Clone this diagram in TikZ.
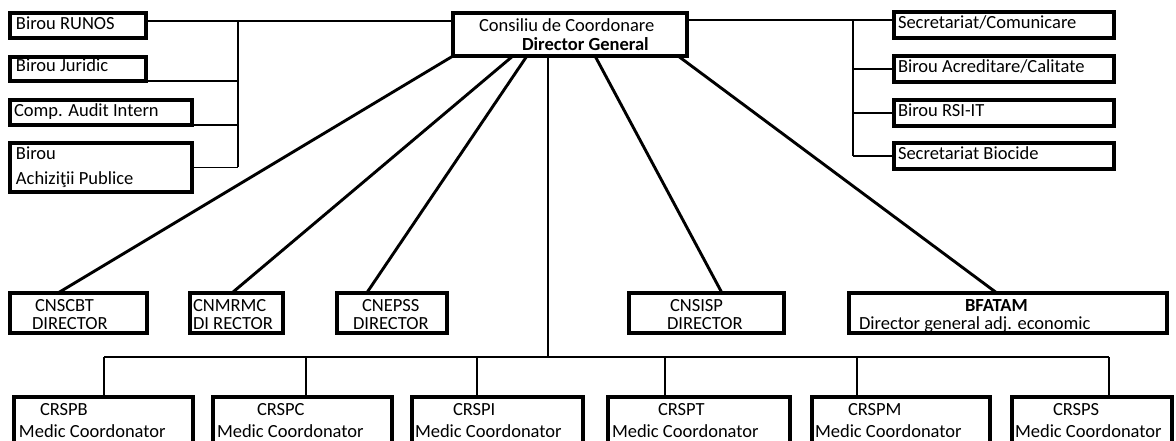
\documentclass[tikz,border=0pt]{standalone}
\usepackage{fontspec}
\setmainfont{Carlito}
\usetikzlibrary{calc}
\tikzset{
  box/.style={draw, line width=3.2pt, inner sep=0pt, outer sep=0pt, anchor=north west},
  txt/.style={inner sep=0pt, outer sep=0pt, anchor=base west, font=\fontsize{18.5}{18}\selectfont},
  boldtxt/.style={txt, font=\fontsize{18.5}{18}\selectfont\bfseries},
  thinline/.style={line width=1.5pt},
  busline/.style={line width=2.2pt},
  diag/.style={line width=2.9pt},
}
\begin{document}
\begin{tikzpicture}[x=1pt,y=-1pt]
\useasboundingbox (0,0) rectangle (1176,441);
% top box
\node[box, minimum width=234pt, minimum height=43pt] (dg) at (453,13) {};
\node[txt] (dgt1) at (479,32) {Consiliu de Coordonare};
\node[boldtxt] (dgt2) at (522,51) {Director General};
% left column
\node[box, minimum width=136pt, minimum height=25pt] (runos) at (10,13) {};
\node[txt] (runost) at (16,30) {Birou RUNOS};
\node[box, minimum width=136pt, minimum height=24pt] (juridic) at (10,57) {};
\node[txt] (juridict) at (16,72) {Birou Juridic};
\node[box, minimum width=182pt, minimum height=25pt] (audit) at (10,100) {};
\node[txt] (auditt) at (14,117) {Comp. Audit Intern};
\node[box, minimum width=182pt, minimum height=49pt] (achiz) at (10,143) {};
\node[txt] (achizt1) at (16,160) {Birou};
\node[txt] (achizt2) at (16,185) {Achiziţii Publice};
% right column
\node[box, minimum width=220pt, minimum height=26pt] (secom) at (894,12) {};
\node[txt] (secomt) at (898,29) {Secretariat/Comunicare};
\node[box, minimum width=220pt, minimum height=26pt] (acred) at (894,56) {};
\node[txt] (acredt) at (898,73) {Birou Acreditare/Calitate};
\node[box, minimum width=220pt, minimum height=26pt] (rsi) at (894,100) {};
\node[txt] (rsit) at (898,117) {Birou RSI-IT};
\node[box, minimum width=220pt, minimum height=26pt] (biocide) at (894,143) {};
\node[txt] (biocidet) at (898,160) {Secretariat Biocide};
% middle row
\node[box, minimum width=137pt, minimum height=40pt] (cnscbt) at (10,293) {};
\node[txt] (cnscbtt1) at (35,311) {CNSCBT};
\node[txt] (cnscbtt2) at (32,329) {DIRECTOR};
\node[box, minimum width=93pt, minimum height=40pt] (cnmrmc) at (190,293) {};
\node[txt] (cnmrmct1) at (193,311) {CNMRMC};
\node[txt] (cnmrmct2) at (193,329) {DI RECTOR};
\node[box, minimum width=110pt, minimum height=40pt] (cnepss) at (337,293) {};
\node[txt] (cnepsst1) at (362,311) {CNEPSS};
\node[txt] (cnepsst2) at (353,329) {DIRECTOR};
\node[box, minimum width=155pt, minimum height=40pt] (cnsisp) at (629,293) {};
\node[txt] (cnsispt1) at (670,311) {CNSISP};
\node[txt] (cnsispt2) at (667,329) {DIRECTOR};
\node[box, minimum width=318pt, minimum height=40pt] (bfatam) at (849,293) {};
\node[boldtxt] (bfatamt1) at (965,311) {BFATAM};
\node[txt] (bfatamt2) at (859,329) {Director general adj. economic};
% bottom row
\node[box, minimum width=179pt, minimum height=46pt] (crspb) at (14,397) {};
\node[txt] (crspbt1) at (40,415) {CRSPB};
\node[txt] (crspbt2) at (19,437) {Medic Coordonator};
\node[box, minimum width=179pt, minimum height=46pt] (crspc) at (213,397) {};
\node[txt] (crspct1) at (257,415) {CRSPC};
\node[txt] (crspct2) at (217,437) {Medic Coordonator};
\node[box, minimum width=171pt, minimum height=46pt] (crspi) at (412,397) {};
\node[txt] (crspit1) at (453,415) {CRSPI};
\node[txt] (crspit2) at (415,437) {Medic Coordonator};
\node[box, minimum width=182pt, minimum height=46pt] (crspt) at (608,397) {};
\node[txt] (crsptt1) at (658,415) {CRSPT};
\node[txt] (crsptt2) at (612,437) {Medic Coordonator};
\node[box, minimum width=178pt, minimum height=46pt] (crspm) at (812,397) {};
\node[txt] (crspmt1) at (848,415) {CRSPM};
\node[txt] (crspmt2) at (815,437) {Medic Coordonator};
\node[box, minimum width=160pt, minimum height=46pt] (crsps) at (1012,397) {};
\node[txt] (crspst1) at (1053,415) {CRSPS};
\node[txt] (crspst2) at (1015,437) {Medic Coordonator};
% left bus
\coordinate (lbx) at (238,0);
\coordinate (lbA) at ($(runos.north east)!0.32!(runos.south east)$);
\draw[thinline] (lbA) -- (lbA -| dg.west);
\draw[thinline] (lbA -| lbx) -- (achiz.east -| lbx);
\draw[thinline] (juridic.south east) -- (juridic.south east -| lbx);
\draw[thinline] (audit.south east) -- (audit.south east -| lbx);
\draw[thinline] (achiz.east) -- (achiz.east -| lbx);
% right bus
\coordinate (rbx) at (853,0);
\coordinate (rbA) at ($(secom.north west)!0.3!(secom.south west)$);
\draw[thinline] (dg.east |- rbA) -- (rbA);
\draw[thinline] (rbA -| rbx) -- (biocide.west -| rbx);
\draw[thinline] (acred.west) -- (acred.west -| rbx);
\draw[thinline] (rsi.west) -- (rsi.west -| rbx);
\draw[thinline] (biocide.west) -- (biocide.west -| rbx);
% diagonals
\draw[diag] (dg.south west) -- ($(cnscbt.north west)!0.35!(cnscbt.north east)$);
\draw[diag] ($(dg.south west)!0.256!(dg.south east)$) -- ($(cnmrmc.north west)!0.45!(cnmrmc.north east)$);
\draw[diag] ($(dg.south west)!0.316!(dg.south east)$) -- ($(cnepss.north west)!0.27!(cnepss.north east)$);
\draw[diag] ($(dg.south west)!0.607!(dg.south east)$) -- ($(cnsisp.north west)!0.6!(cnsisp.north east)$);
\draw[diag] ($(dg.south west)!0.962!(dg.south east)$) -- ($(bfatam.north west)!0.465!(bfatam.north east)$);
% bottom bus
\coordinate (busL) at (104,357);
\coordinate (busR) at (1109,357);
\draw[diag] ($(dg.south west)!0.406!(dg.south east)$) coordinate (dgv) -- (dgv |- busL);
\draw[busline] (busL) -- (busR);
\draw[busline] ($(crspb.north west)!0.503!(crspb.north east)$) coordinate (d1) -- (d1 |- busL);
\draw[busline] ($(crspc.north west)!0.52!(crspc.north east)$) coordinate (d2) -- (d2 |- busL);
\draw[busline] ($(crspi.north west)!0.38!(crspi.north east)$) coordinate (d3) -- (d3 |- busL);
\draw[busline] ($(crspt.north west)!0.313!(crspt.north east)$) coordinate (d4) -- (d4 |- busL);
\draw[busline] ($(crspm.north west)!0.253!(crspm.north east)$) coordinate (d5) -- (d5 |- busL);
\draw[busline] ($(crsps.north west)!0.606!(crsps.north east)$) coordinate (d6) -- (d6 |- busL);
\end{tikzpicture}
\end{document}
